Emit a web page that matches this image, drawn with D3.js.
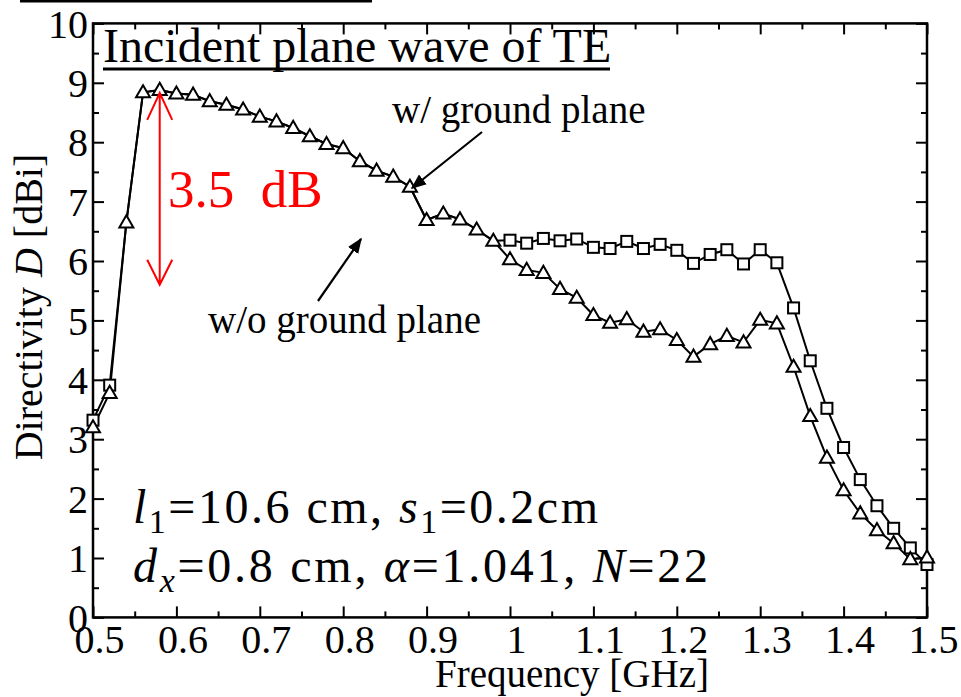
<!DOCTYPE html>
<html>
<head>
<meta charset="utf-8">
<script src="https://cdn.jsdelivr.net/npm/d3@7"></script>
<style>
  body { margin: 0; background: #fff; }
  svg { display: block; font-family: "Liberation Serif", "Times New Roman", serif; }
</style>
</head>
<body>
<div class="chart"></div>
<script>
// Frequency points [GHz]
const freq = [0.50, 0.52, 0.54, 0.56, 0.58, 0.60, 0.62, 0.64, 0.66, 0.68,
              0.70, 0.72, 0.74, 0.76, 0.78, 0.80, 0.82, 0.84, 0.86, 0.88,
              0.90, 0.92, 0.94, 0.96, 0.98, 1.00, 1.02, 1.04, 1.06, 1.08,
              1.10, 1.12, 1.14, 1.16, 1.18, 1.20, 1.22, 1.24, 1.26, 1.28,
              1.30, 1.32, 1.34, 1.36, 1.38, 1.40, 1.42, 1.44, 1.46, 1.48, 1.50];

// Directivity [dBi], triangle markers
const dirTriangle = [3.20, 3.78, 6.65, 8.84, 8.88, 8.82, 8.80, 8.69, 8.63, 8.55,
                     8.43, 8.35, 8.24, 8.10, 7.97, 7.90, 7.68, 7.52, 7.42, 7.25,
                     6.69, 6.80, 6.70, 6.53, 6.34, 6.03, 5.85, 5.80, 5.53, 5.38,
                     5.09, 4.96, 5.02, 4.81, 4.85, 4.67, 4.39, 4.60, 4.74, 4.63,
                     5.01, 4.95, 4.22, 3.39, 2.69, 2.14, 1.75, 1.47, 1.25, 0.98, 1.01];

// Directivity [dBi], square markers
const dirSquare = [3.32, 3.91, 6.65, 8.84, 8.88, 8.82, 8.80, 8.69, 8.63, 8.55,
                   8.43, 8.35, 8.24, 8.10, 7.97, 7.90, 7.68, 7.52, 7.42, 7.25,
                   6.69, 6.80, 6.70, 6.53, 6.34, 6.35, 6.30, 6.38, 6.34, 6.37,
                   6.23, 6.21, 6.33, 6.21, 6.28, 6.18, 5.96, 6.11, 6.19, 5.95,
                   6.19, 5.97, 5.21, 4.32, 3.52, 2.86, 2.32, 1.88, 1.50, 1.17, 0.89];

const xTicks = [0.5, 0.6, 0.7, 0.8, 0.9, 1.0, 1.1, 1.2, 1.3, 1.4, 1.5];
const xMinorTicks = [0.55, 0.65, 0.75, 0.85, 0.95, 1.05, 1.15, 1.25, 1.35, 1.45];
const yTicks = [0, 1, 2, 3, 4, 5, 6, 7, 8, 9, 10];
const yMinorTicks = [0.5, 1.5, 2.5, 3.5, 4.5, 5.5, 6.5, 7.5, 8.5, 9.5];

// 3.5 dB span marker (freq, from, to)
const dbSpan = {f: 0.58, from: 8.83, to: 5.6};

const width = 961;
const height = 697;
const margin = {top: 23.4, right: 34, bottom: 79.6, left: 93};

const x = d3.scaleLinear().domain([0.5, 1.5]).range([margin.left, width - margin.right]);
const y = d3.scaleLinear().domain([0, 10]).range([height - margin.bottom, margin.top]);

const svg = d3.select(".chart").append("svg")
    .attr("width", width)
    .attr("height", height);

svg.append("defs").append("marker")
    .attr("id", "headBlack")
    .attr("viewBox", "0 0 10 10")
    .attr("refX", 9).attr("refY", 5)
    .attr("markerWidth", 7).attr("markerHeight", 7)
    .attr("markerUnits", "strokeWidth")
    .attr("orient", "auto")
  .append("path")
    .attr("d", "M0,1 L10,5 L0,9 Z")
    .attr("fill", "#000");

// stray rule at the very top of the figure
svg.append("rect")
    .attr("x", 20).attr("y", 0)
    .attr("width", 352).attr("height", 2.5)
    .attr("fill", "#000");

const plotB = y(0), plotT = y(10), plotL = x(0.5), plotR = x(1.5);

function styleAxis(g) {
    g.select(".domain").remove();
    g.selectAll("line").attr("stroke", "#000").attr("stroke-width", 2);
}

// major + minor ticks on all four sides, pointing inward
const fmt = d => String(+d.toFixed(1));
svg.append("g")
    .attr("transform", `translate(0,${plotB})`)
    .call(d3.axisBottom(x).tickValues(xTicks).tickSize(-11).tickSizeOuter(0).tickPadding(7).tickFormat(fmt))
    .call(styleAxis)
    .call(g => g.selectAll("text")
        .attr("font-size", 40).attr("fill", "#000")
        .attr("font-family", "Liberation Serif")
        .attr("dx", 6));
svg.append("g")
    .attr("transform", `translate(0,${plotB})`)
    .call(d3.axisBottom(x).tickValues(xMinorTicks).tickSize(-6).tickFormat(""))
    .call(styleAxis);
svg.append("g")
    .attr("transform", `translate(0,${plotT})`)
    .call(d3.axisTop(x).tickValues(xTicks.concat(xMinorTicks)).tickSize(-11).tickFormat(""))
    .call(styleAxis)
    .call(g => g.selectAll(".tick line").filter(d => xMinorTicks.includes(d)).attr("y2", 6));

svg.append("g")
    .attr("transform", `translate(${plotL},0)`)
    .call(d3.axisLeft(y).tickValues(yTicks).tickSize(-11).tickSizeOuter(0).tickPadding(5).tickFormat(d => d))
    .call(styleAxis)
    .call(g => g.selectAll("text")
        .attr("font-size", 40).attr("fill", "#000")
        .attr("font-family", "Liberation Serif")
        .attr("dy", "0.34em"));
svg.append("g")
    .attr("transform", `translate(${plotL},0)`)
    .call(d3.axisLeft(y).tickValues(yMinorTicks).tickSize(-6).tickFormat(""))
    .call(styleAxis);
svg.append("g")
    .attr("transform", `translate(${plotR},0)`)
    .call(d3.axisRight(y).tickValues(yTicks.concat(yMinorTicks)).tickSize(-11).tickFormat(""))
    .call(styleAxis)
    .call(g => g.selectAll(".tick line").filter(d => yMinorTicks.includes(d)).attr("x2", -6));

svg.append("rect")
    .attr("x", plotL).attr("y", plotT)
    .attr("width", plotR - plotL).attr("height", plotB - plotT)
    .attr("fill", "none")
    .attr("stroke", "#000")
    .attr("stroke-width", 2.5);

// axis titles
svg.append("text")
    .attr("x", 572).attr("y", 687)
    .attr("text-anchor", "middle")
    .attr("font-size", 39)
    .text("Frequency [GHz]");

const yTitle = svg.append("text")
    .attr("transform", `translate(42,${307}) rotate(-90)`)
    .attr("text-anchor", "middle")
    .attr("font-size", 40);
yTitle.append("tspan").text("Directivity ");
yTitle.append("tspan").attr("font-style", "italic").text("D");
yTitle.append("tspan").text(" [dBi]");

// series
const triData = freq.map((f, i) => ({f: f, v: dirTriangle[i]}));
const sqData = freq.map((f, i) => ({f: f, v: dirSquare[i], own: dirSquare[i] !== dirTriangle[i]}));

const line = d3.line().x(d => x(d.f)).y(d => y(d.v));

svg.append("path")
    .datum(sqData)
    .attr("fill", "none")
    .attr("stroke", "#000")
    .attr("stroke-width", 2)
    .attr("d", line);

svg.append("path")
    .datum(triData)
    .attr("fill", "none")
    .attr("stroke", "#000")
    .attr("stroke-width", 2)
    .attr("d", line);

svg.selectAll(".sq")
    .data(sqData.filter(d => d.own))
    .enter().append("rect")
    .attr("class", "sq")
    .attr("x", d => x(d.f) - 5.5)
    .attr("y", d => y(d.v) - 5.5)
    .attr("width", 11).attr("height", 11)
    .attr("fill", "#fff")
    .attr("stroke", "#000")
    .attr("stroke-width", 2);

const triSym = d3.symbol().type(d3.symbolTriangle).size(85);
svg.selectAll(".tri")
    .data(triData)
    .enter().append("path")
    .attr("class", "tri")
    .attr("transform", d => `translate(${x(d.f)},${y(d.v) + 1})`)
    .attr("d", triSym)
    .attr("fill", "#fff")
    .attr("stroke", "#000")
    .attr("stroke-width", 2);

// title
svg.append("text")
    .attr("x", 103).attr("y", 62)
    .attr("font-size", 48)
    .text("Incident plane wave of TE");
svg.append("line")
    .attr("x1", 103).attr("x2", 610)
    .attr("y1", 69).attr("y2", 69)
    .attr("stroke", "#000")
    .attr("stroke-width", 3);

// 3.5 dB double arrow
const ax = x(dbSpan.f), ay1 = y(dbSpan.from), ay2 = y(dbSpan.to);
svg.append("path")
    .attr("d", `M${ax},${ay1}V${ay2}` +
               `M${ax - 12.5},${ay1 + 27}L${ax},${ay1}L${ax + 12.5},${ay1 + 27}` +
               `M${ax - 12.5},${ay2 - 25}L${ax},${ay2}L${ax + 12.5},${ay2 - 25}`)
    .attr("fill", "none")
    .attr("stroke", "#ff0000")
    .attr("stroke-width", 2);
svg.append("text")
    .attr("x", 168).attr("y", 207)
    .attr("font-size", 53)
    .attr("fill", "#ff0000")
    .attr("xml:space", "preserve")
    .style("white-space", "pre")
    .text("3.5  dB");

// labels with arrows
svg.append("text")
    .attr("x", 392).attr("y", 123)
    .attr("font-size", 39)
    .text("w/ ground plane");
svg.append("line")
    .attr("x1", 482).attr("y1", 132)
    .attr("x2", 412).attr("y2", 188)
    .attr("stroke", "#000").attr("stroke-width", 2.2)
    .attr("marker-end", "url(#headBlack)");

svg.append("text")
    .attr("x", 208).attr("y", 333)
    .attr("font-size", 39)
    .text("w/o ground plane");
svg.append("line")
    .attr("x1", 318).attr("y1", 301)
    .attr("x2", 361).attr("y2", 239)
    .attr("stroke", "#000").attr("stroke-width", 2.2)
    .attr("marker-end", "url(#headBlack)");

// parameter text
const p1 = svg.append("text").attr("x", 133).attr("y", 523).attr("font-size", 48)
    .attr("textLength", 465).attr("lengthAdjust", "spacing");
p1.append("tspan").attr("font-style", "italic").text("l");
p1.append("tspan").attr("font-size", 34).attr("dy", 10).text("1");
p1.append("tspan").attr("dy", -10).text("=10.6 cm, ");
p1.append("tspan").attr("font-style", "italic").text("s");
p1.append("tspan").attr("font-size", 34).attr("dy", 10).text("1");
p1.append("tspan").attr("dy", -10).text("=0.2cm");

const p2 = svg.append("text").attr("x", 133).attr("y", 582).attr("font-size", 48)
    .attr("textLength", 575).attr("lengthAdjust", "spacing");
p2.append("tspan").attr("font-style", "italic").text("d");
p2.append("tspan").attr("font-size", 34).attr("font-style", "italic").attr("dy", 10).text("x");
p2.append("tspan").attr("dy", -10).text("=0.8 cm, ");
p2.append("tspan").attr("font-style", "italic").text("α");
p2.append("tspan").text("=1.041, ");
p2.append("tspan").attr("font-style", "italic").text("N");
p2.append("tspan").text("=22");
</script>
</body>
</html>
